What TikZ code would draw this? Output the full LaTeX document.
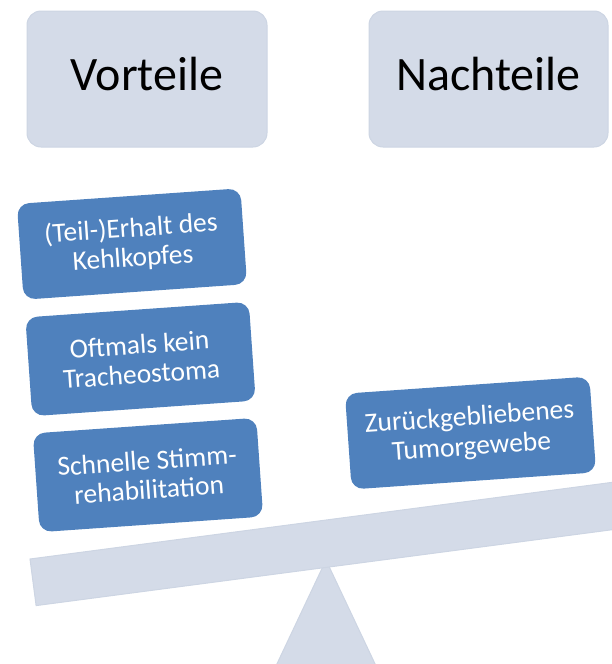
\documentclass[tikz,border=0pt]{standalone}
\usepackage{fontspec}
\setmainfont{Carlito}
\definecolor{hdrfill}{HTML}{D4DBE8}
\definecolor{hdredge}{HTML}{CDD5E3}
\definecolor{accentblue}{HTML}{4F81BD}
\begin{document}
\begin{tikzpicture}[x=1pt,y=-1pt,
  hdrbox/.style={fill=hdrfill, draw=hdredge, line width=1pt, rounded corners=14pt,
    minimum width=240pt, minimum height=136pt, inner sep=0pt,
    font=\fontsize{48}{48}\selectfont, text height=31pt, text depth=9pt},
  bluebox/.style={fill=accentblue, text=white, rounded corners=12pt, rotate=4,
    inner sep=0pt, align=center, font=\fontsize{27.5}{29.5}\selectfont},
  lightshape/.style={fill=hdrfill, draw=hdredge, line width=1pt}]
\useasboundingbox (0,0) rectangle (612,664);
\clip (0,0) rectangle (612,664);
% header boxes
\node[hdrbox] (vor) at (147,79) {Vorteile};
\node[hdrbox, minimum width=239pt] (nach) at (488.5,79) {Nachteile};
% fulcrum
\path[lightshape] (275,668) -- (326,560) -- (377,668) -- cycle;
% beam
\path[lightshape] (30,559) -- (724,467.6) -- (730,514.2) -- (36.1,605.6) -- cycle;
% advantage boxes
\node[bluebox, minimum width=224pt, minimum height=96pt] (b1) at (132,244) {(Teil-)Erhalt des\\Kehlkopfes};
\node[bluebox, minimum width=224pt, minimum height=99pt] (b2) at (140.5,359) {Oftmals kein\\Tracheostoma};
\node[bluebox, minimum width=224pt, minimum height=99pt] (b3) at (148,475) {Schnelle Stimm-\\rehabilitation};
% disadvantage box
\node[bluebox, minimum width=245pt, minimum height=96pt] (b4) at (470.5,433) {Zurückgebliebenes\\Tumorgewebe};
\end{tikzpicture}
\end{document}
